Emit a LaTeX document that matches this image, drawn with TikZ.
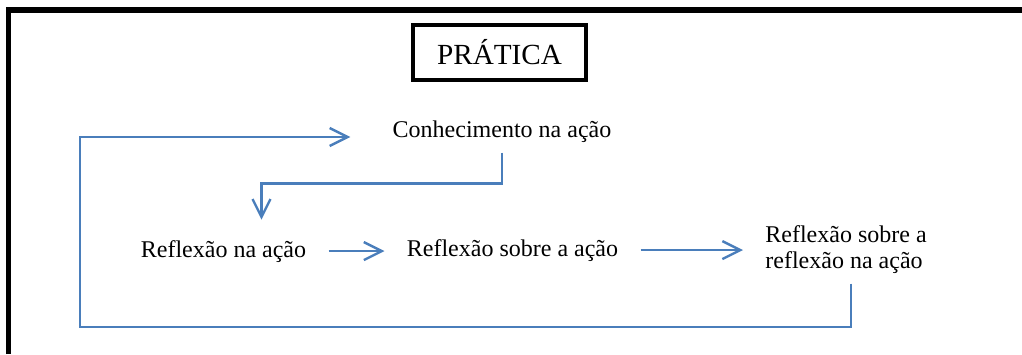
\documentclass[tikz,border=0pt]{standalone}
\usepackage{fontspec}
\setmainfont{Liberation Serif}
\usepackage{xcolor}
\usepackage{tikz}
\usetikzlibrary{arrows.meta,positioning,calc}

\definecolor{azulseta}{HTML}{4A7EBB}

\begin{document}
\begin{tikzpicture}[
    x=0.5pt, y=-0.5pt,
    titulo/.style={rectangle, draw, line width=2pt, minimum width=86.5pt, minimum height=27.5pt, font=\fontsize{14.6}{17}\selectfont},
    etapa/.style={inner xsep=11pt, inner ysep=5pt, font=\fontsize{12}{13}\selectfont},
    seta/.style={draw=azulseta, line width=1.2pt, -{Straight Barb[length=9pt,width=9pt]}}
]
\useasboundingbox (0,0) rectangle (1022,354);

% moldura (cortada em baixo e a direita)
\draw[line width=2.6pt] (8.5,354) -- (8.5,10) -- (1022,10);

\node[titulo] (pratica) at (499.5,52.5) {PRÁTICA};

\node[etapa, anchor=base] (conhec) at (502,137) {Conhecimento na ação};
\node[etapa, anchor=base] (refl1) at (223.5,257) {Reflexão na ação};
\node[etapa, anchor=base] (refl2) at (512.5,256) {Reflexão sobre a ação};
\node[etapa, anchor=base west, align=left] (refl3) at (743,268) {Reflexão sobre a\\reflexão na ação};

\coordinate (canto) at (80,327);

\draw[seta] (conhec.south) -- ++(0,31) -| ([xshift=19pt,yshift=5pt]refl1.north);
\draw[seta] (refl1.east) -- (refl1.east -| refl2.west);
\draw[seta] (refl2.east) -- (refl2.east -| refl3.west);
\draw[seta, shorten >=10pt] ([xshift=2.5pt]refl3.south) |- (canto) |- (conhec.base west);

\end{tikzpicture}
\end{document}
